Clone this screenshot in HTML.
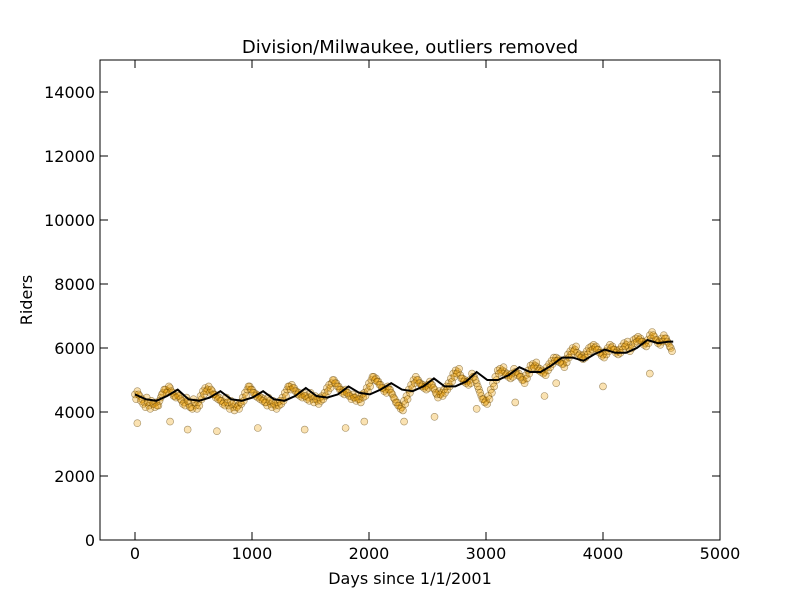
<!DOCTYPE html>
<html><head><meta charset="utf-8"><style>
body{margin:0;background:#fff;}
svg text{font-family:"DejaVu Sans","Liberation Sans",sans-serif;}
</style></head><body>
<svg id="chart" width="800" height="600" xmlns="http://www.w3.org/2000/svg">
<rect width="800" height="600" fill="#fff"/>
<text x="410" y="53" font-size="18" text-anchor="middle">Division/Milwaukee, outliers removed</text>
<g id="marks"></g>
<rect x="100" y="60" width="620" height="480" fill="none" stroke="#000" stroke-width="1"/>
<g id="axes"></g>
<text x="410" y="584" font-size="16" text-anchor="middle">Days since 1/1/2001</text>
<text x="32" y="300" font-size="16" text-anchor="middle" transform="rotate(-90 32 300)">Riders</text>
</svg>
<script>
const xTicks=[0,1000,2000,3000,4000,5000];
const yTicks=[0,2000,4000,6000,8000,10000,12000,14000];
const riders=[
4550,4650,4500,4400,4300,4450,4200,4350,4250,4300,4200,4450,4600,4700,4650,4750,4600,4500,
4600,4500,4350,4300,4450,4250,4150,4400,4200,4300,4500,4650,4750,4700,4600,4650,4550,4500,
4450,4350,4300,4450,4200,4350,4150,4250,4200,4300,4450,4600,4700,4800,4700,4600,4550,4500,
4450,4400,4300,4450,4250,4350,4200,4300,4350,4450,4600,4700,4800,4850,4750,4650,4600,4550,
4600,4500,4450,4600,4400,4500,4350,4450,4500,4600,4750,4850,4900,5000,4900,4800,4700,4650,
4700,4600,4500,4550,4450,4500,4400,4550,4600,4750,4900,5000,5100,5050,4950,4850,4750,4700,
4800,4700,4550,4400,4300,4200,4150,4350,4500,4700,4850,5000,5100,5000,4900,4850,4800,4850,
4950,4850,4700,4550,4650,4600,4700,4800,4900,5050,5200,5300,5250,5150,5050,5000,4950,5000,
5200,5100,4900,4700,4500,4400,4350,4500,4700,4900,5100,5300,5350,5300,5250,5200,5150,5200,
5350,5250,5200,5100,5000,5150,5300,5450,5500,5450,5400,5350,5300,5250,5400,5500,5600,5700,
5700,5650,5600,5500,5650,5800,5900,6000,5950,5850,5800,5750,5800,5900,6000,6050,6100,6050,
5950,5850,5800,5900,6000,6100,6050,5950,5900,5950,6050,6150,6100,6000,6100,6250,6300,6350,
6300,6200,6150,6250,6400,6500,6350,6250,6200,6300,6400,6300,6150,6000
];
const riders2=[
4400,4550,4350,4250,4150,4300,4100,4250,4150,4200,4350,4550,4700,4600,4800,4650,4500,4450,
4500,4400,4250,4200,4350,4150,4100,4300,4100,4200,4400,4550,4650,4800,4700,4550,4450,4400,
4350,4250,4200,4300,4100,4250,4050,4150,4100,4250,4350,4500,4800,4700,4600,4500,4450,4400,
4350,4300,4200,4350,4150,4250,4100,4200,4250,4350,4500,4800,4700,4750,4650,4550,4500,4450,
4500,4400,4350,4500,4300,4400,4250,4350,4400,4500,4650,4750,5000,4900,4800,4700,4600,4550,
4600,4500,4400,4450,4350,4400,4300,4450,4500,4650,4800,5100,5000,4950,4850,4750,4650,4600,
4700,4600,4450,4300,4200,4100,4050,4250,4400,4600,4750,4900,5000,4900,4800,4750,4700,4750,
4850,4750,4600,4450,4550,4500,4600,4700,4800,4950,5100,5200,5350,5050,4950,4900,4850,4900,
5100,5000,4800,4600,4400,4300,4250,4400,4600,4800,5000,5200,5250,5400,5150,5100,5050,5100,
5250,5150,5100,5000,4900,5050,5200,5350,5400,5550,5300,5250,5200,5150,5300,5400,5500,5600,
5600,5550,5500,5400,5550,5700,5800,5900,6050,5750,5700,5650,5700,5800,5900,5950,6000,5950,
5850,5750,5700,5800,5900,6000,5950,5850,5800,5850,5950,6050,6200,5900,6000,6150,6200,6250,
6200,6100,6050,6150,6300,6400,6250,6150,6100,6200,6300,6200,6050,5900
];
const dayStep=20;
const offset2=10;
const outlierDays=[20,300,450,700,1050,1450,1800,1960,2300,2560,2920,3250,3500,3600,4000,4400];
const outlierVals=[3650,3700,3450,3400,3500,3450,3500,3700,3700,3850,4100,4300,4500,4900,4800,5200];
const trend=[4550,4400,4350,4500,4700,4400,4350,4450,4650,4400,4350,4450,4650,4400,4350,4500,
4750,4500,4450,4550,4800,4600,4550,4700,4900,4700,4650,4800,5050,4800,4800,4950,5250,5000,5000,5150,
5400,5250,5250,5450,5700,5700,5600,5800,5950,5850,5850,6000,6250,6150,6200,6200];
const trendStep=91.25;
const trendEnd=4600;
const X=d=>135+d*0.117;
const Y=v=>540-v*0.032;
const NS="http://www.w3.org/2000/svg";
const marks=document.getElementById('marks');
function dot(d,v){
 const c=document.createElementNS(NS,'circle');
 c.setAttribute('cx',X(d));c.setAttribute('cy',Y(v));c.setAttribute('r',3.5);
 c.setAttribute('fill','rgba(240,160,0,0.3)');c.setAttribute('stroke','rgba(90,60,0,0.55)');c.setAttribute('stroke-width','0.6');
 
 
 marks.appendChild(c);
}
riders.forEach((v,i)=>dot(i*dayStep,v));
riders2.forEach((v,i)=>dot(i*dayStep+offset2,v));
outlierVals.forEach((v,i)=>dot(outlierDays[i],v));
let pts=trend.map((v,i)=>X(Math.min(i*trendStep,trendEnd))+','+Y(v)).join(' ');
const pl=document.createElementNS(NS,'polyline');
pl.setAttribute('points',pts);pl.setAttribute('fill','none');pl.setAttribute('stroke','#000');pl.setAttribute('stroke-width','2');


marks.appendChild(pl);
const ax=document.getElementById('axes');
function ln(x1,y1,x2,y2){const l=document.createElementNS(NS,'line');l.setAttribute('x1',x1);l.setAttribute('y1',y1);l.setAttribute('x2',x2);l.setAttribute('y2',y2);l.setAttribute('stroke','#000');


ax.appendChild(l);}
function tx(x,y,s,a){const t=document.createElementNS(NS,'text');t.setAttribute('x',x);t.setAttribute('y',y);t.setAttribute('font-size','16');t.setAttribute('text-anchor',a);t.textContent=s;


ax.appendChild(t);}
xTicks.forEach(d=>{const x=X(d);ln(x,540,x,532);ln(x,60,x,68);tx(x,559,String(d),'middle');});
yTicks.forEach(v=>{const y=Y(v);ln(100,y,108,y);ln(720,y,712,y);tx(95,y+6,String(v),'end');});
</script>
</body></html>
